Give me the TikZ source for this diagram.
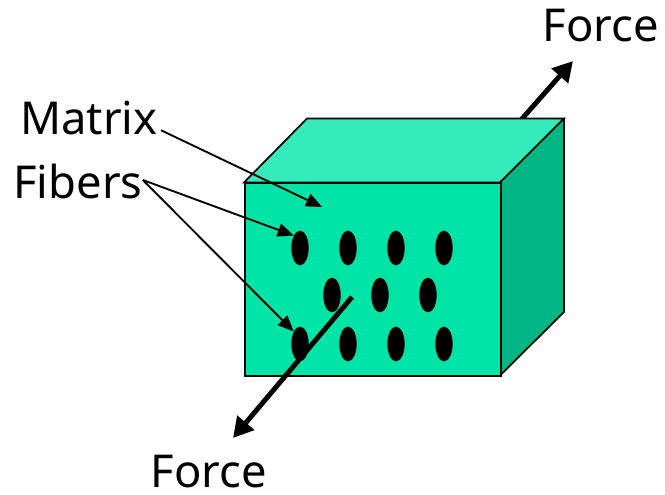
\documentclass[tikz,border=0pt]{standalone}
\usepackage{fontspec}
\setmainfont{Noto Sans}
\usetikzlibrary{arrows.meta,shapes.geometric}
\definecolor{frontgreen}{RGB}{0,228,166}
\definecolor{topgreen}{RGB}{51,236,186}
\definecolor{sidegreen}{RGB}{0,182,133}
\tikzset{
  label text/.style={inner sep=0pt, font=\fontsize{34}{36}\selectfont},
  fiber/.style={ellipse, fill=black, minimum width=13pt, minimum height=26pt, inner sep=0pt},
  force/.style={line width=3.7pt, -{Triangle[length=15pt,width=16pt]}},
  pointer/.style={line width=1.4pt, -{Triangle[length=12pt,width=10pt]}}
}
\begin{document}
\begin{tikzpicture}[x=0.75pt,y=-0.75pt]
\useasboundingbox (0,0) rectangle (665,495);
% upper force, behind the block
\coordinate (upperstart) at (505,138);
\coordinate (uppertip) at (573,61);
\draw[force] (upperstart) -- (uppertip);
% block
\fill[topgreen,draw=black,line width=1.3pt] (244,182.5) -- (307,118.5) -- (564,118.5) -- (500,182.5) -- cycle;
\fill[sidegreen,draw=black,line width=1.3pt,line join=round] (500,182.5) -- (564,118.5) -- (564,312) -- (500,375.5) -- cycle;
\node[draw=black, line width=1.3pt, fill=frontgreen, minimum width=192pt, minimum height=144.75pt, inner sep=0pt, anchor=north west] (front) at (244,182.5) {};
% fibers
\foreach \name/\xc/\yc in {a/300/248,b/348/248,c/396/248,d/444/248,
                           e/332/295,f/380/295,g/428/295,
                           h/300/344,i/348/344,j/396/344,k/444/344}
  \node[fiber] (\name) at (\xc,\yc) {};
% lower force
\coordinate (lowerstart) at (352,297);
\coordinate (lowertip) at (233,438);
\draw[force] (lowerstart) -- (lowertip);
% labels
\node[label text] (matrix) at (89,118) {Matrix};
\node[label text] (fibers) at (78,182) {Fibers};
\node[label text] (forcetop) at (601,26) {Force};
\node[label text] (forcebottom) at (209,472) {Force};
% pointers
\coordinate (matrixtip) at (322,207);
\draw[pointer] (matrix.south east) ++(3,-5) -- (matrixtip);
\draw[pointer] (fibers.east) ++(0,-2) coordinate (fibersout) -- (a.north west);
\draw[pointer] (fibersout) -- (h.north west);
\end{tikzpicture}
\end{document}
